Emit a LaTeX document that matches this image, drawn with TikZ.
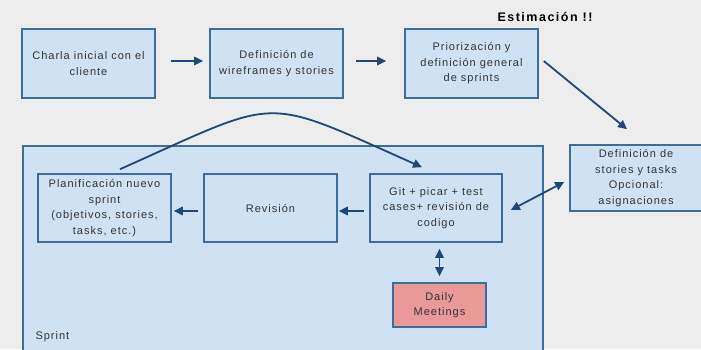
\documentclass[tikz,border=0pt]{standalone}
\usepackage{fontspec}
\setmainfont{Liberation Sans}
\newfontfamily\boxfont[LetterSpace=9]{Liberation Sans}
\newfontfamily\titlefont[LetterSpace=12]{Liberation Sans}
\usetikzlibrary{arrows.meta}
\definecolor{bg}{HTML}{EDEDED}
\definecolor{boxfill}{HTML}{CFE2F3}
\definecolor{boxline}{HTML}{3F6D99}
\definecolor{redfill}{HTML}{EA9999}
\definecolor{arrowc}{HTML}{1F4877}
\definecolor{txt}{HTML}{333333}
\tikzset{
  box/.style={draw=boxline, line width=1.6pt, fill=boxfill, align=center,
    text=txt, font=\boxfont\fontsize{11}{15.5}\selectfont, inner sep=0pt},
  sprintbox/.style={draw=boxline, line width=1.6pt, fill=boxfill, inner sep=0pt},
  arr/.style={draw=arrowc, line width=1.8pt, -{Triangle[length=9pt,width=8.5pt]}},
  darr/.style={draw=arrowc, line width=1.8pt, {Triangle[length=9pt,width=8.5pt]}-{Triangle[length=9pt,width=8.5pt]}},
}
\begin{document}
\begin{tikzpicture}[x=1pt,y=-1pt]
\useasboundingbox (0,0) rectangle (701,349);
\fill[bg] (0,0) rectangle (701,349);
\begin{scope}
\clip (0,0) rectangle (701,349);
\node[sprintbox, minimum width=520pt, minimum height=215pt, anchor=north west] (sprint) at (22,145) {};
\node[box, minimum width=132pt, minimum height=66pt] (right) at (636,178) {Definición de\\stories y tasks\\Opcional:\\asignaciones};
\end{scope}
\node[anchor=west, text=txt, font=\boxfont\fontsize{11}{12}\selectfont] (sprintlabel) at (32,337) {Sprint};

\node[box, minimum width=133pt, minimum height=69pt] (b1) at (88.5,63.5) {Charla inicial con el\\cliente};
\node[box, minimum width=133pt, minimum height=69pt] (b2) at (276.5,63.5) {Definición de\\wireframes y stories};
\node[box, minimum width=133pt, minimum height=69pt] (b3) at (471.5,63.5) {Priorización y\\definición general\\de sprints};
\node[font=\titlefont\bfseries\fontsize{12.5}{14}\selectfont, text=black] (est) at (545,17) {Estimación !!};

\node[box, minimum width=133pt, minimum height=68pt] (plan) at (104.5,208) {Planificación nuevo\\sprint\\(objetivos, stories,\\tasks, etc.)};
\node[box, minimum width=133pt, minimum height=68pt] (rev) at (270.5,208) {Revisión};
\node[box, minimum width=132pt, minimum height=68pt] (git) at (436,208) {Git + picar + test\\cases+ revisión de\\codigo};
\node[box, fill=redfill, minimum width=93pt, minimum height=44pt] (daily) at (439.5,305) {Daily\\Meetings};

\draw[arr, shorten <=15pt, shorten >=6pt] ([yshift=2.5pt]b1.east) -- ([yshift=2.5pt]b2.west);
\draw[arr, shorten <=12pt, shorten >=18pt] ([yshift=2.5pt]b2.east) -- ([yshift=2.5pt]b3.west);
\draw[arr] ([xshift=5pt,yshift=2.5pt]b3.east) -- ([xshift=-9pt,yshift=15pt]right.north);
\draw[arr, shorten <=5pt, shorten >=2pt] ([yshift=-3pt]rev.west) -- ([yshift=-3pt]plan.east);
\draw[arr, shorten <=5pt, shorten >=1pt] ([yshift=-3pt]git.west) -- ([yshift=-3pt]rev.east);
\draw[darr] ([xshift=8pt,yshift=-2pt]git.east) -- ([xshift=-5pt,yshift=-4pt]right.west);
\draw[darr, shorten <=6pt, shorten >=6pt] (daily.north |- git.south) -- (daily.north);
\draw[arr] ([xshift=15.5pt,yshift=4pt]plan.north) .. controls (283,96.6) and (259,94.6) .. ([xshift=-14pt,yshift=6pt]git.north);
\end{tikzpicture}
\end{document}
